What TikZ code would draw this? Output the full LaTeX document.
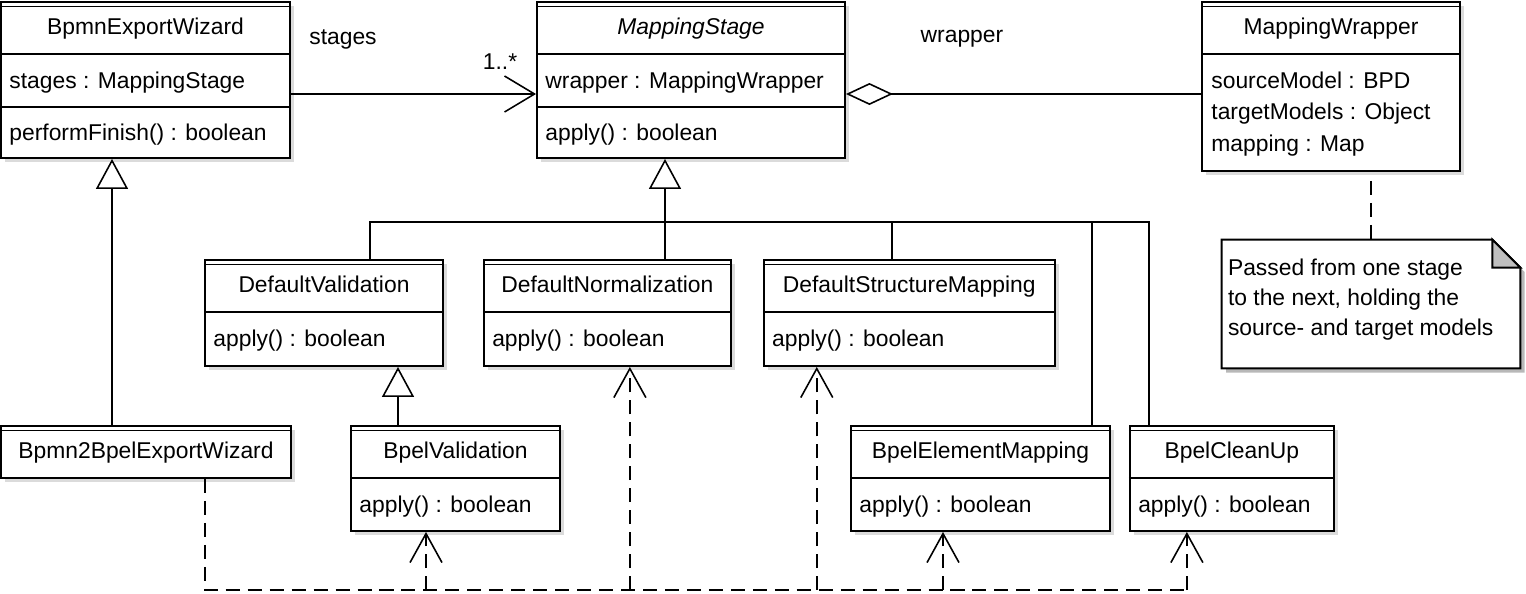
\documentclass[tikz,border=0pt]{standalone}
\usepackage{fontspec}
\setmainfont{Liberation Sans}
\usepackage{tikz}
\usetikzlibrary{positioning}
\usetikzlibrary{arrows.meta,shadows}
\tikzstyle{classbox} = [draw,line width=1.1pt,fill=white,inner sep=0pt,drop shadow={shadow xshift=2.5pt,shadow yshift=-2.5pt,fill=black!28}]
\tikzstyle{classname} = [anchor=base,inner sep=0pt]
\tikzstyle{member} = [anchor=base west,inner sep=0pt]
\tikzstyle{divider} = [line width=1.1pt]
\tikzstyle{conn} = [line width=0.9pt]
\tikzstyle{gen} = [line width=0.9pt,-{Triangle[length=0.6cm,width=0.64cm,fill=white]}]
\tikzstyle{depline} = [line width=0.9pt,dash pattern=on 8pt off 4.5pt]
\tikzstyle{dep} = [depline,-{Straight Barb[length=0.58cm,width=0.64cm]}]
\tikzstyle{assoc} = [line width=0.9pt,-{Straight Barb[length=0.6cm,width=0.72cm]}]
\tikzstyle{aggr} = [line width=0.9pt,{Diamond[length=0.94cm,width=0.44cm,fill=white]}-]

\begin{document}
\begin{tikzpicture}[x=0.02cm,y=-0.02cm,font=\fontsize{13}{17}\selectfont]
	\useasboundingbox (0,0) rectangle (1526,593);
	%Nodes
	\node[classbox,minimum width=5.78cm,minimum height=3.12cm] (bew) at (145.5,80) {};
	\node[classbox,minimum width=6.16cm,minimum height=3.12cm] (ms) at (691,80) {};
	\node[classbox,minimum width=5.16cm,minimum height=3.38cm] (mw) at (1331,86.5) {};
	\node[minimum width=5.96cm,minimum height=2.56cm,inner sep=0pt] (note) at (1371,304) {};
	
	\node[classbox,minimum width=4.76cm,minimum height=2.12cm] (dv) at (324,313) {};
	\node[classbox,minimum width=4.94cm,minimum height=2.12cm,right=0.78cm of dv] (dn) {};
	\node[classbox,minimum width=5.82cm,minimum height=2.12cm,right=0.62cm of dn] (dsm) {};
	
	\node[classbox,minimum width=5.8cm,minimum height=1.04cm] (b2b) at (146,452) {};
	\node[classbox,minimum width=4.18cm,minimum height=2.1cm] (bv) at (455.5,478.5) {};
	\node[classbox,minimum width=5.18cm,minimum height=2.1cm] (bem) at (980.5,478.5) {};
	\node[classbox,minimum width=4.08cm,minimum height=2.1cm,right=0.36cm of bem] (bcu) {};
	
	%Compartments
	\foreach \c in {bew,ms,mw,dv,dn,dsm,b2b,bv,bem,bcu}
		\draw[line width=0.5pt] ([yshift=-0.1cm]\c.north west) -- ([yshift=-0.1cm]\c.north east);
	\foreach \c in {bew,ms,mw,dv,dn,dsm,bv,bem,bcu}
		\draw[divider] ([yshift=-1.06cm]\c.north west) -- ([yshift=-1.06cm]\c.north east);
	\foreach \c in {bew,ms}
		\draw[divider] ([yshift=-2.12cm]\c.north west) -- ([yshift=-2.12cm]\c.north east);
	
	%Texts
	\node[classname] (bew-name) at ([yshift=-0.67cm]bew.north) {BpmnExportWizard};
	\node[member] (bew-attr) at ([xshift=0.18cm,yshift=-1.74cm]bew.north west) {stages : MappingStage};
	\node[member] (bew-op) at ([xshift=0.18cm,yshift=-2.78cm]bew.north west) {performFinish() : boolean};
	
	\node[classname] (ms-name) at ([yshift=-0.67cm]ms.north) {\textit{MappingStage}};
	\node[member] (ms-attr) at ([xshift=0.18cm,yshift=-1.74cm]ms.north west) {wrapper : MappingWrapper};
	\node[member] (ms-op) at ([xshift=0.18cm,yshift=-2.78cm]ms.north west) {apply() : boolean};
	
	\node[classname] (mw-name) at ([yshift=-0.67cm]mw.north) {MappingWrapper};
	\node[member] (mw-src) at ([xshift=0.2cm,yshift=-1.74cm]mw.north west) {sourceModel : BPD};
	\node[member] (mw-tgt) at ([xshift=0.2cm,yshift=-2.36cm]mw.north west) {targetModels : Object};
	\node[member] (mw-map) at ([xshift=0.2cm,yshift=-3.0cm]mw.north west) {mapping : Map};
	
	\node[classname] (dv-name) at ([yshift=-0.67cm]dv.north) {DefaultValidation};
	\node[classname] (dn-name) at ([yshift=-0.67cm]dn.north) {DefaultNormalization};
	\node[classname] (dsm-name) at ([yshift=-0.67cm]dsm.north) {DefaultStructureMapping};
	\node[classname] (b2b-name) at ([yshift=-0.67cm]b2b.north) {Bpmn2BpelExportWizard};
	\node[classname] (bv-name) at ([yshift=-0.67cm]bv.north) {BpelValidation};
	\node[classname] (bem-name) at ([yshift=-0.67cm]bem.north) {BpelElementMapping};
	\node[classname] (bcu-name) at ([yshift=-0.67cm]bcu.north) {BpelCleanUp};
	\foreach \c in {dv,dn,dsm,bv,bem,bcu}
		\node[member] (\c-op) at ([xshift=0.18cm,yshift=-1.74cm]\c.north west) {apply() : boolean};
	
	%Note
	\fill[black!28] ([shift={(2.5pt,-2.5pt)}]note.north west) -- ([shift={(-0.56cm+2.5pt,-2.5pt)}]note.north east) -- ([shift={(2.5pt,-0.56cm-2.5pt)}]note.north east) -- ([shift={(2.5pt,-2.5pt)}]note.south east) -- ([shift={(2.5pt,-2.5pt)}]note.south west) -- cycle;
	\draw[line width=1.1pt,fill=white] (note.north west) -- ([xshift=-0.56cm]note.north east) -- ([yshift=-0.56cm]note.north east) -- (note.south east) -- (note.south west) -- cycle;
	\draw[line width=1.1pt,fill=black!25] ([xshift=-0.56cm]note.north east) -- ([xshift=-0.56cm,yshift=-0.56cm]note.north east) -- ([yshift=-0.56cm]note.north east) -- cycle;
	\node[anchor=north west,inner sep=0pt,align=left] (note-text) at ([xshift=0.12cm,yshift=-0.38cm]note.north west) {Passed from one stage\\to the next, holding the\\source- and target models};
	\draw[line width=0.9pt,dash pattern=on 8pt off 4.5pt] ([yshift=-0.18cm]mw.south -| note.north) -- (note.north);
	
	%Lines
	\draw[assoc] ([yshift=-0.28cm]bew.east) -- ([yshift=-0.28cm]ms.west);
	\node (stages) at (343,39) {stages};
	\node (mult) at (500,62) {1..*};
	\draw[aggr] ([yshift=-0.28cm]ms.east) -- ([yshift=-0.28cm]ms.east -| mw.west);
	\node (wrapper) at (962,39) {wrapper};
	
	\coordinate (gbus) at (665,222);
	\draw[gen] (gbus) -- ([xshift=-0.52cm]ms.south);
	\draw[conn] ([xshift=0.92cm]dv.north) |- ([xshift=-1.66cm]bcu.north |- gbus) -- ([xshift=-1.66cm]bcu.north);
	\draw[conn] (dn.north -| gbus) -- (gbus);
	\draw[conn] ([xshift=-0.35cm]dsm.north) -- ([xshift=-0.35cm]dsm.north |- gbus);
	\draw[conn] ([xshift=2.23cm]bem.north) -- ([xshift=2.23cm]bem.north |- gbus);
	\draw[gen] ([xshift=-0.68cm]b2b.north) -- ([xshift=-0.67cm]bew.south);
	\draw[gen] ([xshift=-1.15cm]bv.north) -- ([xshift=1.48cm]dv.south);
	
	\coordinate (dbot) at (205,590);
	\coordinate (bvin) at ([xshift=-0.59cm]bv.south);
	\coordinate (dnin) at ([xshift=0.45cm]dn.south);
	\coordinate (dsmin) at ([xshift=-1.85cm]dsm.south);
	\coordinate (bemin) at ([xshift=-0.75cm]bem.south);
	\coordinate (bcuin) at ([xshift=-0.9cm]bcu.south);
	\draw[depline] (b2b.south -| dbot) -- (dbot) -- (dbot -| bcuin);
	\foreach \t in {bvin,dnin,dsmin,bemin,bcuin}
		\draw[dep] (\t |- dbot) -- (\t);
\end{tikzpicture}
\end{document}
